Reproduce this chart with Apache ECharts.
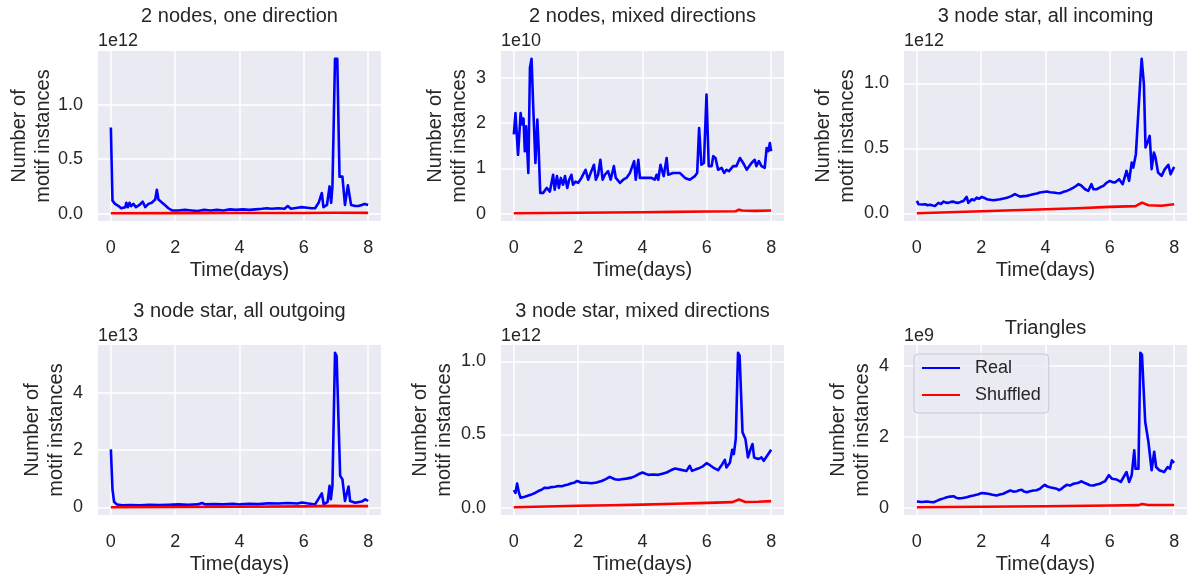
<!DOCTYPE html>
<html><head><meta charset="utf-8">
<script src="https://cdn.jsdelivr.net/npm/echarts@6/dist/echarts.min.js"></script>
<style>html,body{margin:0;padding:0;background:#fff}#c{width:1190px;height:582px}</style>
</head><body><div id="c"></div>
<script>
// ---------------- data ----------------
const titles = ['2 nodes, one direction', '2 nodes, mixed directions', '3 node star, all incoming',
                '3 node star, all outgoing', '3 node star, mixed directions', 'Triangles'];
const offsets = ['1e12', '1e10', '1e12', '1e13', '1e12', '1e9'];
const xTicks = [0, 2, 4, 6, 8];
const yTicks = [[0, 0.5, 1.0], [0, 1, 2, 3], [0, 0.5, 1.0], [0, 2, 4], [0, 0.5, 1.0], [0, 2, 4]];
const yDecimals = [1, 0, 1, 0, 1, 0];
const seriesNames = ['Real', 'Shuffled'];
const xLabel = 'Time(days)';
const yLabel = 'Number of\nmotif instances';

// [time (days), value in units of the offset]
const real1 = [[0,0.79],[0.05,0.12],[0.13,0.09],[0.24,0.07],[0.32,0.05],[0.45,0.06],[0.48,0.10],[0.53,0.06],[0.58,0.10],[0.63,0.07],[0.70,0.09],[0.78,0.06],[0.89,0.08],[0.99,0.11],[1.07,0.06],[1.17,0.09],[1.27,0.10],[1.38,0.13],[1.43,0.22],[1.48,0.13],[1.53,0.12],[1.64,0.09],[1.79,0.05],[1.90,0.03],[2.1,0.03],[2.3,0.035],[2.5,0.03],[2.7,0.025],[2.9,0.035],[3.1,0.03],[3.3,0.035],[3.5,0.03],[3.7,0.04],[3.9,0.035],[4.1,0.04],[4.3,0.035],[4.5,0.04],[4.7,0.045],[4.85,0.05],[5.0,0.045],[5.2,0.05],[5.4,0.045],[5.5,0.07],[5.6,0.045],[5.8,0.055],[5.94,0.06],[6.1,0.055],[6.25,0.05],[6.35,0.05],[6.46,0.10],[6.56,0.19],[6.61,0.06],[6.72,0.08],[6.80,0.25],[6.85,0.10],[6.89,0.25],[6.97,1.42],[7.04,1.42],[7.11,0.34],[7.20,0.34],[7.28,0.08],[7.37,0.26],[7.41,0.25],[7.47,0.08],[7.6,0.07],[7.70,0.07],[7.8,0.08],[7.89,0.09],[8.0,0.08]];
const shuf1 = [[0,0.004],[2,0.005],[4,0.006],[6,0.007],[7,0.009],[8,0.008]];

const real2 = [[0,1.75],[0.05,2.22],[0.13,1.3],[0.21,2.22],[0.26,1.97],[0.30,2.1],[0.34,1.38],[0.38,1.93],[0.45,0.9],[0.50,3.22],[0.55,3.42],[0.60,2.4],[0.67,1.12],[0.73,2.08],[0.77,1.45],[0.82,0.46],[0.91,0.46],[1.02,0.57],[1.12,0.49],[1.22,0.86],[1.27,0.53],[1.34,0.83],[1.40,0.57],[1.46,0.79],[1.53,0.64],[1.59,0.83],[1.66,0.57],[1.72,0.75],[1.79,0.86],[1.84,0.64],[1.92,0.71],[2.0,0.68],[2.10,0.79],[2.23,0.97],[2.31,0.75],[2.41,0.94],[2.49,1.08],[2.55,0.75],[2.62,0.86],[2.69,1.19],[2.76,0.75],[2.83,0.86],[2.93,0.94],[3.01,0.75],[3.11,1.05],[3.17,0.79],[3.30,0.68],[3.40,0.75],[3.50,0.79],[3.61,0.9],[3.74,1.16],[3.79,0.75],[3.87,1.19],[3.92,0.79],[4.07,0.79],[4.28,0.79],[4.38,0.75],[4.44,0.86],[4.49,0.75],[4.56,1.08],[4.61,1.12],[4.66,0.83],[4.75,1.23],[4.80,0.86],[4.95,0.9],[5.16,0.9],[5.32,0.79],[5.47,0.75],[5.63,0.83],[5.70,0.9],[5.76,1.89],[5.83,1.08],[5.91,1.12],[5.99,2.63],[6.06,1.05],[6.15,1.05],[6.20,1.27],[6.27,1.23],[6.35,0.97],[6.46,1.01],[6.54,0.9],[6.61,0.97],[6.69,0.94],[6.82,1.05],[6.92,1.05],[7.03,1.23],[7.13,1.12],[7.24,0.97],[7.39,1.12],[7.49,1.19],[7.54,1.05],[7.62,1.16],[7.70,1.05],[7.80,1.01],[7.86,1.45],[7.91,1.38],[7.96,1.56],[8.0,1.38]];
const shuf2 = [[0,0.01],[1,0.015],[2,0.02],[3,0.027],[4,0.033],[5,0.04],[6,0.048],[6.9,0.055],[7.0,0.09],[7.1,0.07],[7.5,0.062],[8,0.07]];

const real3 = [[0,0.095],[0.05,0.07],[0.10,0.08],[0.18,0.068],[0.26,0.07],[0.33,0.062],[0.41,0.065],[0.5,0.06],[0.57,0.057],[0.67,0.08],[0.75,0.072],[0.83,0.09],[0.9,0.082],[0.98,0.08],[1.06,0.088],[1.14,0.09],[1.21,0.082],[1.29,0.08],[1.37,0.088],[1.45,0.095],[1.55,0.126],[1.60,0.08],[1.71,0.108],[1.78,0.1],[1.86,0.12],[1.94,0.112],[2.02,0.126],[2.1,0.118],[2.17,0.108],[2.27,0.104],[2.38,0.1],[2.49,0.104],[2.59,0.108],[2.7,0.114],[2.80,0.12],[2.92,0.13],[3.05,0.147],[3.13,0.138],[3.21,0.128],[3.32,0.132],[3.42,0.134],[3.52,0.14],[3.62,0.147],[3.73,0.152],[3.83,0.16],[3.94,0.164],[4.04,0.167],[4.14,0.162],[4.24,0.16],[4.35,0.156],[4.45,0.154],[4.56,0.165],[4.66,0.172],[4.77,0.184],[4.87,0.198],[4.95,0.21],[5.02,0.224],[5.1,0.216],[5.16,0.229],[5.23,0.185],[5.33,0.172],[5.43,0.224],[5.49,0.185],[5.59,0.185],[5.70,0.2],[5.80,0.211],[5.9,0.235],[6.0,0.25],[6.08,0.24],[6.16,0.237],[6.29,0.262],[6.40,0.224],[6.52,0.326],[6.60,0.25],[6.68,0.39],[6.73,0.352],[6.81,0.455],[6.86,0.455],[6.94,0.995],[6.99,1.19],[7.06,0.995],[7.11,0.506],[7.19,0.558],[7.24,0.596],[7.30,0.34],[7.37,0.468],[7.42,0.43],[7.50,0.314],[7.61,0.288],[7.71,0.34],[7.82,0.373],[7.89,0.3],[8.0,0.357]];
const shuf3 = [[0,0.0],[1,0.008],[2,0.016],[3,0.023],[4,0.031],[5,0.039],[6,0.049],[6.8,0.055],[7.0,0.082],[7.2,0.062],[7.6,0.058],[8,0.069]];

const real4 = [[0,2.03],[0.05,0.63],[0.10,0.19],[0.19,0.1],[0.35,0.07],[0.6,0.08],[0.9,0.07],[1.2,0.09],[1.5,0.08],[1.8,0.09],[2.1,0.1],[2.4,0.09],[2.7,0.1],[2.83,0.15],[2.95,0.1],[3.2,0.11],[3.5,0.1],[3.8,0.12],[4.0,0.1],[4.3,0.12],[4.6,0.11],[4.9,0.14],[5.2,0.13],[5.5,0.15],[5.8,0.13],[5.94,0.17],[6.1,0.14],[6.35,0.1],[6.48,0.34],[6.56,0.49],[6.62,0.1],[6.74,0.19],[6.80,0.75],[6.84,0.28],[6.89,0.75],[6.97,5.42],[7.02,5.3],[7.13,1.1],[7.20,0.98],[7.28,0.22],[7.39,0.73],[7.44,0.22],[7.60,0.16],[7.80,0.2],[7.91,0.28],[8.0,0.22]];
const shuf4 = [[0,0.0],[2,0.01],[4,0.02],[6,0.03],[7,0.05],[7.2,0.04],[8,0.04]];

const real5 = [[0,0.12],[0.05,0.1],[0.10,0.164],[0.16,0.1],[0.21,0.067],[0.34,0.074],[0.45,0.082],[0.55,0.09],[0.66,0.1],[0.76,0.113],[0.86,0.122],[0.96,0.136],[1.07,0.134],[1.17,0.14],[1.28,0.142],[1.38,0.147],[1.49,0.146],[1.59,0.152],[1.69,0.158],[1.79,0.166],[1.88,0.17],[1.97,0.182],[2.10,0.17],[2.25,0.17],[2.41,0.166],[2.57,0.172],[2.73,0.182],[2.86,0.195],[2.98,0.21],[3.14,0.194],[3.25,0.19],[3.35,0.194],[3.5,0.198],[3.66,0.205],[3.77,0.215],[3.87,0.228],[4.0,0.24],[4.18,0.224],[4.33,0.226],[4.49,0.224],[4.62,0.232],[4.75,0.24],[4.88,0.255],[5.01,0.267],[5.21,0.258],[5.37,0.251],[5.47,0.286],[5.54,0.251],[5.64,0.26],[5.73,0.267],[5.86,0.28],[5.99,0.304],[6.10,0.29],[6.20,0.274],[6.35,0.256],[6.48,0.297],[6.56,0.327],[6.61,0.274],[6.72,0.309],[6.79,0.396],[6.84,0.366],[6.90,0.47],[6.97,1.06],[7.02,1.04],[7.11,0.516],[7.20,0.47],[7.28,0.343],[7.36,0.4],[7.42,0.435],[7.47,0.343],[7.60,0.332],[7.70,0.343],[7.77,0.32],[7.86,0.35],[8.0,0.396]];
const shuf5 = [[0,0.002],[1,0.007],[2,0.012],[3,0.016],[4,0.02],[5,0.026],[6,0.032],[6.8,0.037],[7.0,0.055],[7.2,0.038],[7.6,0.04],[8,0.044]];

const real6 = [[0,0.18],[0.15,0.17],[0.31,0.18],[0.42,0.17],[0.52,0.16],[0.62,0.2],[0.72,0.24],[0.83,0.27],[0.93,0.3],[1.04,0.32],[1.14,0.33],[1.22,0.29],[1.29,0.27],[1.42,0.28],[1.55,0.3],[1.65,0.33],[1.76,0.35],[1.89,0.38],[2.02,0.42],[2.12,0.41],[2.22,0.4],[2.35,0.37],[2.48,0.35],[2.58,0.38],[2.69,0.4],[2.80,0.45],[2.90,0.49],[3.0,0.46],[3.11,0.47],[3.18,0.5],[3.26,0.51],[3.34,0.46],[3.42,0.44],[3.52,0.47],[3.62,0.49],[3.72,0.5],[3.83,0.54],[3.9,0.6],[3.98,0.65],[4.06,0.6],[4.14,0.58],[4.24,0.56],[4.35,0.54],[4.42,0.5],[4.50,0.54],[4.58,0.6],[4.66,0.65],[4.76,0.63],[4.87,0.68],[5.0,0.7],[5.12,0.75],[5.2,0.71],[5.28,0.68],[5.38,0.64],[5.49,0.63],[5.59,0.66],[5.69,0.68],[5.77,0.72],[5.85,0.75],[5.97,0.92],[6.07,0.82],[6.21,0.8],[6.34,0.73],[6.43,0.87],[6.52,1.01],[6.60,0.73],[6.68,0.92],[6.76,1.62],[6.80,1.1],[6.89,1.1],[6.95,4.36],[7.0,4.3],[7.1,2.42],[7.2,1.86],[7.3,1.06],[7.38,1.58],[7.44,1.15],[7.54,1.06],[7.69,1.01],[7.80,1.15],[7.87,1.1],[7.93,1.34],[8.0,1.27]];
const shuf6 = [[0,0.02],[2,0.035],[4,0.05],[6,0.07],[6.9,0.08],[7.0,0.11],[7.2,0.085],[8,0.085]];

const realData = [real1, real2, real3, real4, real5, real6];
const shufData = [shuf1, shuf2, shuf3, shuf4, shuf5, shuf6];

// ---------------- layout / style ----------------
const FONT = '"Liberation Sans", Arial, sans-serif';
const TXT = '#262626';
const plotLefts = [98, 501, 904, 98, 501, 904];
const plotTops = [51, 51, 51, 345, 345, 345];
const PW = 283, PH = 170;
const titleY = [16, 16, 16, 311, 311, 328];
const offsetY = [41, 41, 41, 336, 336, 336];
const yLabelX = [31, 447, 835, 44, 432, 850];
const LW = 2.6;

const grids = [], xAxes = [], yAxes = [], series = [], graphics = [];
for (let i = 0; i < 6; i++) {
  grids.push({left: plotLefts[i], top: plotTops[i], width: PW, height: PH, show: true,
              backgroundColor: '#EAEAF2', borderWidth: 0});
  xAxes.push({type: 'value', gridIndex: i, min: -0.4, max: 8.4,
    axisLine: {show: false}, axisTick: {show: false, customValues: xTicks},
    axisLabel: {customValues: xTicks, color: TXT, fontSize: 18, fontFamily: FONT, margin: 18},
    splitLine: {show: true, lineStyle: {color: '#ffffff', width: 1.5}}});
  const all = realData[i].concat(shufData[i]).map(p => p[1]);
  const lo = Math.min(...all), hi = Math.max(...all), r = hi - lo;
  const dec = yDecimals[i];
  yAxes.push({type: 'value', gridIndex: i, min: lo - 0.05 * r, max: hi + 0.05 * r,
    axisLine: {show: false}, axisTick: {show: false, customValues: yTicks[i]},
    axisLabel: {customValues: yTicks[i], color: TXT, fontSize: 18, fontFamily: FONT, margin: 15,
                formatter: v => Number(v).toFixed(dec)},
    splitLine: {show: true, lineStyle: {color: '#ffffff', width: 1.5}}});
  series.push({type: 'line', name: seriesNames[0], xAxisIndex: i, yAxisIndex: i, data: realData[i],
    symbol: 'none', showSymbol: false, lineStyle: {color: '#0000FF', width: LW, join: 'round'},
    itemStyle: {color: '#0000FF'}, z: 3});
  series.push({type: 'line', name: seriesNames[1], xAxisIndex: i, yAxisIndex: i, data: shufData[i],
    symbol: 'none', showSymbol: false, lineStyle: {color: '#FF0000', width: LW, join: 'round'},
    itemStyle: {color: '#FF0000'}, z: 4});
  const cx = plotLefts[i] + PW / 2;
  graphics.push({type: 'text', x: cx, y: titleY[i], z: 10,
    style: {text: titles[i], textAlign: 'center', textVerticalAlign: 'middle', fill: TXT, font: '20px ' + FONT}});
  graphics.push({type: 'text', x: plotLefts[i], y: offsetY[i], z: 10,
    style: {text: offsets[i], textAlign: 'left', textVerticalAlign: 'middle', fill: TXT, font: '18px ' + FONT}});
  graphics.push({type: 'text', x: cx, y: plotTops[i] + PH + 49, z: 10,
    style: {text: xLabel, textAlign: 'center', textVerticalAlign: 'middle', fill: TXT, font: '20px ' + FONT}});
  graphics.push({type: 'text', x: yLabelX[i], y: plotTops[i] + PH / 2, rotation: Math.PI / 2, z: 10,
    style: {text: yLabel, textAlign: 'center', textVerticalAlign: 'middle', fill: TXT,
            font: '20px ' + FONT, lineHeight: 24}});
}

const chart = echarts.init(document.getElementById('c'), null, {renderer: 'canvas'});
chart.setOption({
  backgroundColor: '#ffffff',
  animation: false,
  grid: grids, xAxis: xAxes, yAxis: yAxes, series: series,
  legend: {data: [{name: 'Real', icon: 'rect'}, {name: 'Shuffled', icon: 'rect'}],
    orient: 'vertical', left: 914, top: 354, itemWidth: 38, itemHeight: 2, itemGap: 9,
    padding: [5, 8, 9, 8], backgroundColor: 'rgba(234,234,242,0.8)', borderColor: '#C8C8D0',
    borderWidth: 1, borderRadius: 4, selectedMode: false,
    textStyle: {fontSize: 18, color: TXT, fontFamily: FONT, padding: [0, 0, 0, 10], lineHeight: 18}},
  graphic: graphics
});
</script></body></html>
